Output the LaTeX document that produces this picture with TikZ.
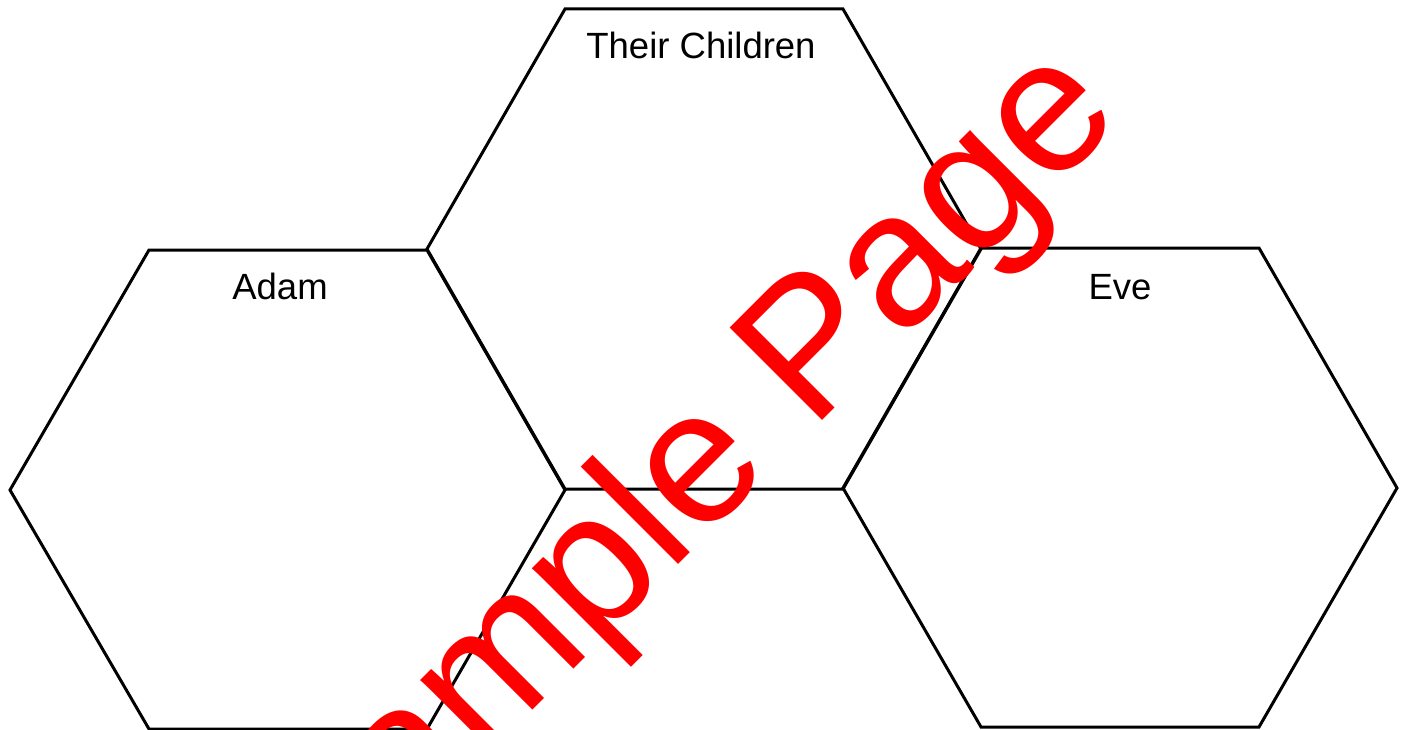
\documentclass[tikz,border=0pt]{standalone}
\usepackage{fontspec}
\setmainfont{Liberation Sans}
\begin{document}
\begin{tikzpicture}[x=1pt,y=-1pt,
  hexline/.style={draw=black,line width=3pt,line join=miter},
  hexlabel/.style={anchor=base,font=\fontsize{36.5}{40}\selectfont,text=black,inner sep=0pt},
  watermark/.style={anchor=base,rotate=45,text=red,font=\fontsize{190}{190}\selectfont,inner sep=0pt}]
\useasboundingbox (0,0) rectangle (1405,730);
% left hexagon
\draw[hexline] (149,250) -- (427,250) -- (565,490) -- (427,729) -- (149,729) -- (10,490) -- cycle;
% middle hexagon
\draw[hexline] (565,9) -- (843,9) -- (981,249) -- (843,489) -- (565,489) -- (427,249) -- cycle;
% right hexagon
\draw[hexline] (981,248) -- (1259,248) -- (1397,488) -- (1259,727) -- (981,727) -- (843,488) -- cycle;
\node[hexlabel] (adam) at (280,299) {Adam};
\node[hexlabel] (children) at (701,59) {Their Children};
\node[hexlabel] (eve) at (1120,299) {Eve};
\node[watermark] (wm) at (722,521) {Sample Page};
\end{tikzpicture}
\end{document}
